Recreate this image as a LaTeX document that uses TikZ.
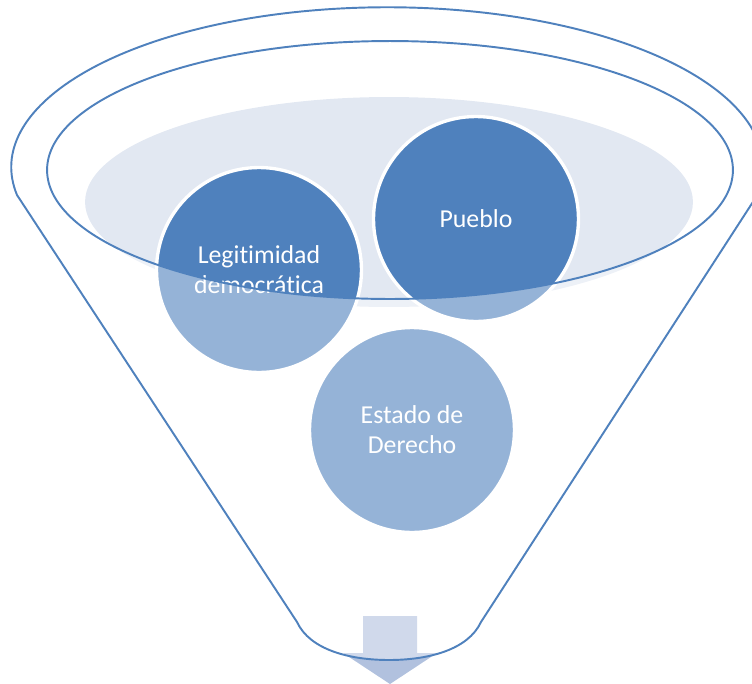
\documentclass[tikz,border=0pt]{standalone}
\usepackage{fontspec}
\setmainfont{Carlito}[Ligatures={NoCommon}]
\begin{document}
\begin{tikzpicture}[x=0.02cm,y=-0.02cm,
  ball/.style={circle,minimum size=4.1cm,inner sep=0pt,draw=white,line width=1.9pt,
    fill=accent,text=white,align=center,font=\fontsize{14.7}{17}\selectfont},
  funline/.style={draw=accent,line width=1.1pt}]
\definecolor{accent}{HTML}{4F81BD}
\definecolor{bowl}{HTML}{E2E8F2}
\definecolor{arrowc}{HTML}{B1C1DE}
\useasboundingbox (0,0) rectangle (752,684);
\clip (0,0) rectangle (752,684);
% back of the funnel
\fill[bowl] (389,202) ellipse [x radius=6.08cm, y radius=2.1cm];
% circles
\node[ball] (leg) at (259,270) {Legitimidad\\democrática};
\node[ball] (pue) at (476,219) {Pueblo};
\node[ball] (est) at (412,430) {Estado de\\Derecho};
% arrow
\fill[arrowc] (363,616) -- (417,616) -- (417,653) -- (437,653) -- (390,684)
  -- (343,653) -- (363,653) -- cycle;
% funnel front overlay
\fill[white,fill opacity=0.4,even odd rule]
  (17,195) arc[start angle=190, end angle=-10, x radius=7.52cm, y radius=3.2cm]
  -- (481,622) .. controls (468,650) and (428,660) .. (389,660)
  .. controls (350,660) and (310,650) .. (297,622) -- cycle
  (390,170) ellipse [x radius=6.86cm, y radius=2.58cm];
% funnel outline
\draw[funline,line join=round]
  (17,195) arc[start angle=190, end angle=-10, x radius=7.52cm, y radius=3.2cm]
  -- (481,622) .. controls (468,650) and (428,660) .. (389,660)
  .. controls (350,660) and (310,650) .. (297,622) -- cycle;
\draw[funline] (390,170) ellipse [x radius=6.86cm, y radius=2.58cm];
\end{tikzpicture}
\end{document}
